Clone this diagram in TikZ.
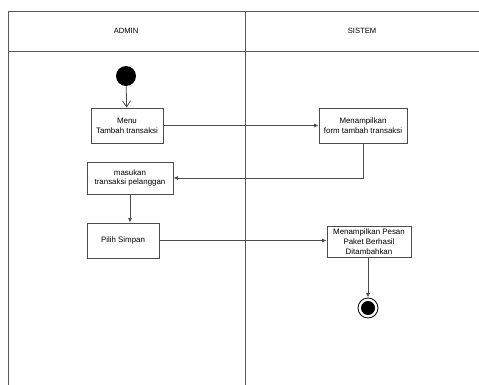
\documentclass[tikz,border=0pt]{standalone}
\usepackage{fontspec}
\setmainfont{Liberation Sans}
\usetikzlibrary{arrows.meta}
\begin{document}
\begin{tikzpicture}[x=1pt,y=-1pt,
  lane/.style={draw=black!65,line width=0.9pt},
  act/.style={draw=black!70,line width=0.8pt,fill=white,align=center,font=\fontsize{7.9}{9.7}\selectfont,inner sep=0pt},
  flow/.style={draw=black!70,line width=0.8pt,-{Latex[length=4.5pt,width=4pt]}},
  openflow/.style={draw=black!70,line width=0.8pt,-{Straight Barb[length=6pt,width=8pt]}},
  lbl/.style={font=\fontsize{7.6}{9}\selectfont}]
\useasboundingbox (0,0) rectangle (479,385);
\fill[white] (0,0) rectangle (479,385);
% swimlanes
\draw[lane] (8,11) -- (479,11);
\draw[lane] (8,51) -- (479,51);
\draw[lane] (8,11) -- (8,385);
\draw[lane] (245,11) -- (245,385);
\node[lbl] (hadmin) at (126,31) {ADMIN};
\node[lbl] (hsistem) at (362,31) {SISTEM};
% nodes
\node[circle,fill=black,minimum size=20pt,inner sep=0pt] (start) at (126,76) {};
\node[act,minimum width=72pt,minimum height=35pt] (menu) at (127,125.5) {Menu\\Tambah transaksi};
\node[act,minimum width=88pt,minimum height=35pt] (form) at (363,125.5) {Menampilkan\\form tambah transaksi};
\node[act,minimum width=86pt,minimum height=32pt] (masuk) at (130,178) {masukan\\transaksi pelanggan};
\node[act,minimum width=72pt,minimum height=35pt] (pilih) at (123,240.5) {Pilih Simpan};
\node[act,minimum width=84pt,minimum height=31pt] (pesan) at (369,241.5) {Menampilkan Pesan\\Paket Berhasil\\Ditambahkan};
\node[circle,draw=black,line width=0.8pt,minimum size=20pt,inner sep=0pt] (end) at (368,308) {};
\node[circle,fill=black,minimum size=14pt,inner sep=0pt] (endin) at (end) {};
\coordinate (bend) at (363,178);
% connectors
\draw[openflow] (start) -- (menu);
\draw[flow] (menu.east) -- (form.west);
\draw[flow] (form.south) -- (bend) -- (masuk.east);
\draw[flow] (masuk.south) -- (pilih.north -| masuk.south);
\draw[flow] (pilih.east) -- (pesan.west |- pilih.east);
\draw[flow] (pesan.south -| end.north) -- (end.north);
\end{tikzpicture}
\end{document}
